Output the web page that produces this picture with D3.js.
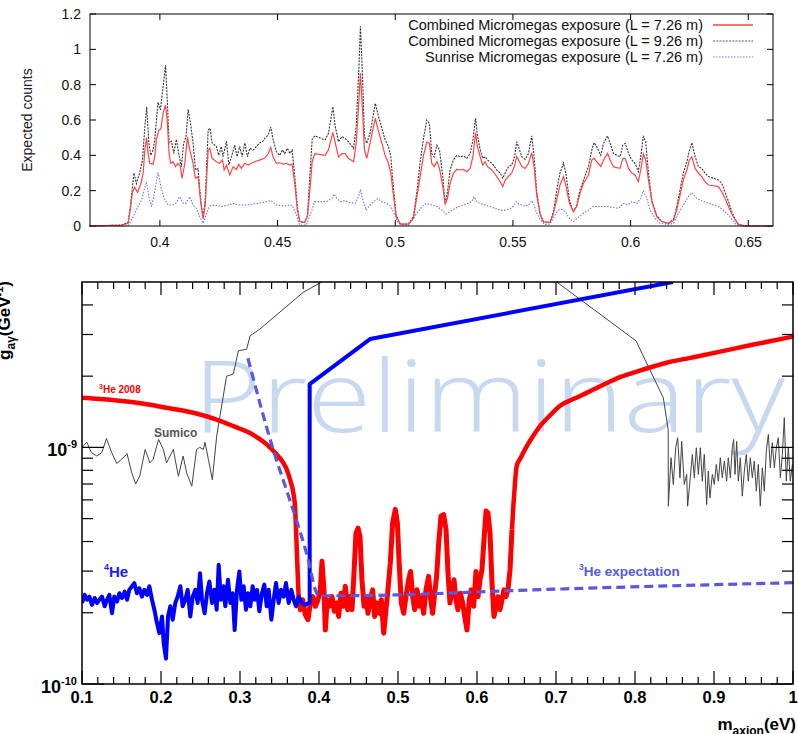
<!DOCTYPE html>
<html>
<head>
<meta charset="utf-8">
<script src="https://cdn.jsdelivr.net/npm/d3@7"></script>
<style>
  body { margin: 0; background: #fff; }
  svg { display: block; }
</style>
</head>
<body>
<script>
// ---- top panel: expected counts vs axion mass (eV) ----
var topXTicks = [0.4, 0.45, 0.5, 0.55, 0.6, 0.65];
var topYTicks = [0, 0.2, 0.4, 0.6, 0.8, 1, 1.2];

var legendLabels = [
  'Combined Micromegas exposure (L = 7.26 m)',
  'Combined Micromegas exposure (L = 9.26 m)',
  'Sunrise Micromegas exposure (L = 7.26 m)'
];

// [mass, counts]
var combined726 = [
  [0.370,0],[0.3837,0.005],[0.3865,0.015],[0.3876,0.11],[0.3883,0.19],[0.3893,0.22],[0.3905,0.19],[0.3919,0.24],[0.3929,0.30],[0.3936,0.43],[0.3943,0.50],[0.3950,0.41],[0.3957,0.355],[0.3971,0.35],[0.3978,0.39],[0.3985,0.49],[0.3995,0.54],[0.4004,0.55],[0.4014,0.64],[0.4024,0.685],[0.4031,0.60],[0.4039,0.41],[0.4046,0.355],[0.4056,0.364],[0.4066,0.336],[0.4077,0.355],[0.4087,0.336],[0.4094,0.27],[0.4106,0.355],[0.4117,0.505],[0.4127,0.43],[0.4141,0.355],[0.4151,0.27],[0.4162,0.28],[0.4174,0.128],[0.4184,0.043],[0.4193,0.128],[0.4205,0.43],[0.4212,0.44],[0.4222,0.383],[0.4240,0.364],[0.4254,0.355],[0.4266,0.374],[0.4273,0.317],[0.4283,0.345],[0.4297,0.289],[0.4311,0.336],[0.4325,0.32],[0.4335,0.35],[0.4346,0.326],[0.4361,0.355],[0.4375,0.345],[0.4389,0.355],[0.4403,0.364],[0.4417,0.37],[0.4431,0.377],[0.4445,0.383],[0.4460,0.41],[0.4471,0.445],[0.4481,0.39],[0.4495,0.355],[0.4509,0.358],[0.4523,0.35],[0.4537,0.355],[0.4552,0.345],[0.4562,0.35],[0.4573,0.24],[0.4584,0.09],[0.4594,0.025],[0.4615,0.02],[0.4627,0.053],[0.4637,0.2],[0.4647,0.364],[0.4658,0.41],
  [0.4702,0.40],[0.4716,0.43],[0.4735,0.53],[0.4745,0.47],[0.4759,0.39],[0.4773,0.41],[0.4787,0.41],[0.4801,0.383],[0.4823,0.364],[0.4834,0.47],[0.4844,0.675],[0.4852,0.864],[0.4861,0.657],[0.4869,0.43],[0.4879,0.383],[0.4893,0.47],[0.4915,0.61],[0.4929,0.534],[0.4943,0.47],[0.4957,0.40],[0.4971,0.355],[0.4981,0.30],[0.4993,0.166],[0.5004,0.053],[0.5021,0.011],[0.5056,0.011],[0.5077,0.043],[0.5092,0.166],[0.5106,0.28],[0.5120,0.40],[0.5134,0.474],[0.5145,0.47],[0.5155,0.355],[0.5165,0.336],[0.5177,0.364],[0.5188,0.326],[0.5202,0.223],[0.5212,0.125],[0.5222,0.157],[0.5233,0.24],[0.5247,0.30],[0.5262,0.32],[0.5276,0.317],[0.5290,0.32],[0.5304,0.307],[0.5318,0.326],[0.5330,0.392],[0.5341,0.528],[0.5349,0.449],[0.5361,0.392],[0.5372,0.345],[0.5382,0.364],[0.5392,0.336],[0.5403,0.326],[0.5417,0.307],[0.5431,0.28],[0.5446,0.25],[0.5457,0.223],[0.5467,0.26],[0.5481,0.28],[0.5495,0.30],[0.5507,0.34],[0.5516,0.392],[0.5528,0.364],[0.5538,0.336],[0.5552,0.326],[0.5566,0.355],[0.5580,0.415],[0.5590,0.336],[0.5601,0.175],[0.5616,0.062],[0.5630,0.023],[0.5658,0.02],
  [0.5672,0.07],[0.5689,0.166],[0.5700,0.232],[0.5715,0.28],[0.5726,0.223],[0.5740,0.128],[0.5757,0.081],[0.5771,0.11],[0.5785,0.185],[0.5800,0.242],[0.5821,0.289],[0.5835,0.374],[0.5845,0.383],[0.5856,0.364],[0.5873,0.336],[0.5885,0.374],[0.5902,0.411],[0.5913,0.374],[0.5927,0.336],[0.5941,0.33],[0.5955,0.326],[0.5967,0.383],[0.5977,0.383],[0.5991,0.326],[0.6005,0.30],[0.6019,0.289],[0.6033,0.251],[0.6043,0.317],[0.6054,0.408],[0.6064,0.374],[0.6076,0.26],[0.6090,0.138],[0.6111,0.053],[0.6132,0.025],[0.6161,0.015],[0.6182,0.03],[0.6196,0.09],[0.6210,0.175],[0.6224,0.26],[0.6239,0.317],[0.6250,0.374],[0.6260,0.392],[0.6274,0.326],[0.6288,0.30],[0.6302,0.28],[0.6316,0.251],[0.6331,0.232],[0.6352,0.228],[0.6373,0.223],[0.6387,0.194],[0.6401,0.157],[0.6416,0.11],[0.6430,0.068],[0.6444,0.034],[0.6458,0.009],[0.6479,0.002],[0.6508,0],[0.660,0]
];

var combined926 = [
  [0.370,0],[0.3837,0.005],[0.3865,0.02],[0.3876,0.13],[0.3890,0.30],[0.3900,0.24],[0.3914,0.30],[0.3926,0.374],[0.3936,0.56],[0.3944,0.675],[0.3953,0.47],[0.3961,0.40],[0.3971,0.43],[0.3978,0.49],[0.3992,0.70],[0.4002,0.657],[0.4012,0.77],[0.4024,0.91],[0.4032,0.695],[0.4039,0.47],[0.4049,0.48],[0.4059,0.41],[0.4070,0.49],[0.4080,0.41],[0.4091,0.336],[0.4101,0.47],[0.4111,0.505],[0.4120,0.66],[0.4130,0.58],[0.4141,0.47],[0.4151,0.317],[0.4162,0.326],[0.4174,0.138],[0.4184,0.043],[0.4193,0.157],[0.4205,0.543],[0.4213,0.553],[0.4222,0.47],[0.4240,0.45],[0.4250,0.40],[0.4261,0.45],[0.4268,0.392],[0.4283,0.48],[0.4293,0.345],[0.4304,0.392],[0.4318,0.458],[0.4328,0.392],[0.4339,0.45],[0.4349,0.392],[0.4361,0.47],[0.4372,0.392],[0.4382,0.44],[0.4396,0.43],[0.4410,0.45],[0.4424,0.47],[0.4438,0.48],[0.4448,0.50],[0.4460,0.515],[0.4471,0.56],[0.4481,0.49],[0.4495,0.42],[0.4509,0.40],[0.4521,0.43],[0.4530,0.41],[0.4542,0.44],[0.4552,0.41],[0.4562,0.43],[0.4573,0.28],[0.4584,0.11],[0.4594,0.025],[0.4615,0.02],[0.4627,0.06],[0.4637,0.28],[0.4647,0.49],[0.4658,0.51],
  [0.4702,0.487],[0.4716,0.525],[0.4735,0.675],[0.4745,0.562],[0.4759,0.477],[0.4773,0.506],[0.4787,0.496],[0.4801,0.477],[0.4823,0.44],[0.4834,0.562],[0.4844,0.845],[0.4852,1.13],[0.4861,0.845],[0.4869,0.506],[0.4879,0.468],[0.4893,0.525],[0.4915,0.694],[0.4929,0.619],[0.4943,0.553],[0.4957,0.487],[0.4971,0.449],[0.4981,0.392],[0.4993,0.204],[0.5004,0.062],[0.5021,0.011],[0.5056,0.011],[0.5077,0.053],[0.5092,0.194],[0.5106,0.364],[0.5120,0.496],[0.5134,0.60],[0.5145,0.58],[0.5155,0.41],[0.5165,0.392],[0.5177,0.458],[0.5188,0.43],[0.5202,0.28],[0.5212,0.125],[0.5222,0.194],[0.5233,0.317],[0.5247,0.374],[0.5262,0.40],[0.5276,0.392],[0.5290,0.396],[0.5304,0.383],[0.5318,0.41],[0.5330,0.487],[0.5341,0.61],[0.5349,0.515],[0.5361,0.43],[0.5372,0.383],[0.5382,0.392],[0.5392,0.374],[0.5403,0.364],[0.5417,0.345],[0.5431,0.317],[0.5446,0.30],[0.5457,0.27],[0.5467,0.30],[0.5481,0.336],[0.5495,0.345],[0.5507,0.392],[0.5516,0.477],[0.5528,0.43],[0.5538,0.392],[0.5552,0.377],[0.5566,0.41],[0.5580,0.51],[0.5590,0.392],[0.5601,0.194],[0.5616,0.068],[0.5630,0.023],[0.5658,0.02],
  [0.5672,0.08],[0.5689,0.223],[0.5700,0.30],[0.5715,0.355],[0.5726,0.289],[0.5740,0.147],[0.5757,0.081],[0.5771,0.119],[0.5785,0.204],[0.5800,0.26],[0.5821,0.336],[0.5835,0.43],[0.5845,0.472],[0.5856,0.449],[0.5873,0.40],[0.5885,0.468],[0.5902,0.51],[0.5913,0.468],[0.5927,0.411],[0.5941,0.40],[0.5955,0.392],[0.5967,0.458],[0.5977,0.468],[0.5991,0.411],[0.6005,0.374],[0.6019,0.355],[0.6033,0.307],[0.6043,0.392],[0.6054,0.506],[0.6064,0.477],[0.6076,0.30],[0.6090,0.147],[0.6111,0.062],[0.6132,0.025],[0.6161,0.015],[0.6182,0.038],[0.6196,0.11],[0.6210,0.204],[0.6224,0.30],[0.6239,0.364],[0.6250,0.43],[0.6260,0.472],[0.6274,0.392],[0.6288,0.336],[0.6302,0.326],[0.6316,0.30],[0.6331,0.28],[0.6352,0.27],[0.6373,0.26],[0.6387,0.242],[0.6401,0.194],[0.6416,0.138],[0.6430,0.081],[0.6444,0.038],[0.6458,0.011],[0.6479,0.002],[0.6508,0],[0.660,0]
];

var sunrise726 = [
  [0.370,0],[0.3865,0],[0.3886,0.053],[0.3907,0.11],[0.3922,0.147],[0.3933,0.204],[0.3943,0.25],[0.3953,0.166],[0.3964,0.11],[0.3978,0.194],[0.3992,0.304],[0.4004,0.223],[0.4018,0.157],[0.4035,0.119],[0.4056,0.119],[0.4070,0.132],[0.4084,0.166],[0.4099,0.128],[0.4110,0.128],[0.4127,0.166],[0.4141,0.119],[0.4155,0.10],[0.4169,0.053],[0.4184,0.015],[0.4198,0.072],[0.4212,0.113],[0.4233,0.119],[0.4261,0.11],[0.4290,0.119],[0.4311,0.128],[0.4332,0.119],[0.4361,0.119],[0.4389,0.123],[0.4417,0.128],[0.4445,0.136],[0.4474,0.143],[0.4495,0.119],[0.4530,0.113],[0.4562,0.119],[0.4580,0.062],[0.4594,0.006],[0.4622,0.006],[0.4641,0.072],[0.4658,0.138],
  [0.4709,0.138],[0.4731,0.157],[0.4740,0.181],[0.4752,0.157],[0.4766,0.138],[0.4787,0.143],[0.4808,0.132],[0.4830,0.128],[0.4844,0.166],[0.4852,0.204],[0.4862,0.147],[0.4876,0.09],[0.4893,0.119],[0.4908,0.138],[0.4925,0.155],[0.4943,0.138],[0.4964,0.128],[0.4981,0.11],[0.4995,0.072],[0.5009,0.025],[0.5028,0.006],[0.5056,0.006],[0.5077,0.043],[0.5092,0.072],[0.5113,0.11],[0.5134,0.128],[0.5155,0.119],[0.5177,0.11],[0.5198,0.09],[0.5216,0.068],[0.5233,0.081],[0.5254,0.10],[0.5276,0.113],[0.5304,0.125],[0.5325,0.138],[0.5335,0.166],[0.5347,0.138],[0.5361,0.128],[0.5382,0.119],[0.5403,0.11],[0.5424,0.10],[0.5446,0.09],[0.5467,0.09],[0.5488,0.098],[0.5502,0.113],[0.5514,0.138],[0.5524,0.125],[0.5538,0.119],[0.5552,0.11],[0.5570,0.125],[0.5580,0.143],[0.5590,0.119],[0.5601,0.072],[0.5618,0.034],[0.5633,0.009],[0.5658,0.01],
  [0.5679,0.062],[0.5693,0.09],[0.5708,0.094],[0.5722,0.081],[0.5740,0.043],[0.5757,0.025],[0.5778,0.049],[0.5800,0.072],[0.5821,0.09],[0.5839,0.11],[0.5863,0.11],[0.5892,0.11],[0.5920,0.106],[0.5948,0.10],[0.5970,0.128],[0.5987,0.119],[0.6005,0.138],[0.6026,0.128],[0.6043,0.157],[0.6054,0.20],[0.6069,0.157],[0.6083,0.09],[0.6104,0.043],[0.6125,0.015],[0.6161,0.009],[0.6182,0.015],[0.6203,0.072],[0.6224,0.119],[0.6241,0.157],[0.6260,0.189],[0.6281,0.157],[0.6302,0.143],[0.6324,0.132],[0.6352,0.119],[0.6373,0.11],[0.6394,0.09],[0.6416,0.062],[0.6434,0.03],[0.6451,0.005],[0.6479,0],[0.660,0]
];

// ---- bottom panel: g_agamma (units of 1e-10 GeV^-1) vs m_axion (eV) ----
var bottomXTicks = [0.1, 0.2, 0.3, 0.4, 0.5, 0.6, 0.7, 0.8, 0.9, 1];
var bottomXLabels = ['0.1', '0.2', '0.3', '0.4', '0.5', '0.6', '0.7', '0.8', '0.9', '1'];
var bottomYMajor = [1, 10];
var bottomYLabels = ['-10', '-9'];
var bottomYMinor = [2, 3, 4, 5, 6, 7, 8, 9, 20, 30, 40];

var he4Noise = [
  [0.1000,2.20],[0.1034,2.38],[0.1063,2.27],[0.1093,2.34],[0.1127,2.16],[0.1160,2.31],[0.1190,2.20],[0.1219,2.27],[0.1253,2.34],[0.1287,2.13],[0.1316,2.27],[0.1346,2.38],[0.1380,1.99],[0.1409,2.34],[0.1443,2.23],[0.1473,2.42],[0.1506,2.31],[0.1540,2.46],[0.1570,2.27],[0.1599,2.50],[0.1633,2.59],[0.1662,2.67],[0.1696,2.42],[0.1726,2.54],[0.1759,2.34],[0.1789,2.50],[0.1823,2.38],[0.1852,2.59],[0.1886,2.27],[0.1916,2.06],[0.1949,1.81],[0.1979,1.64],[0.2013,1.93],[0.2034,1.49],[0.2063,1.28],[0.2089,1.93],[0.2118,2.13],[0.2148,1.87],[0.2181,2.20],[0.2211,2.34],[0.2245,2.59],[0.2274,2.13],[0.2308,2.27],[0.2338,2.50],[0.2371,1.93],[0.2401,2.34],[0.2435,2.50],[0.2464,2.20],[0.2494,2.94],[0.2519,2.27],[0.2553,1.99],[0.2582,2.42],[0.2612,2.71],[0.2646,2.20],[0.2675,2.50],[0.2705,2.06],[0.2730,3.19],[0.2759,2.27],[0.2789,2.59],[0.2814,2.13],[0.2848,2.76],[0.2878,2.20],[0.2907,2.42],[0.2932,1.69],[0.2962,2.50],[0.2992,2.99],[0.3017,2.27],[0.3046,2.59],[0.3076,2.06],[0.3101,2.42],[0.3131,2.13],[0.3160,2.59],[0.3186,2.27],[0.3215,2.50],[0.3245,2.03],[0.3278,2.42],[0.3308,2.63],[0.3338,2.13],[0.3363,2.50],[0.3397,1.87],[0.3426,2.27],[0.3456,2.67],[0.3489,2.20],[0.3519,2.50],[0.3553,2.34],[0.3582,2.67],[0.3616,2.20],[0.3650,2.50],[0.3679,2.27],[0.3709,2.13],[0.3743,2.34],[0.3785,2.20],[0.3827,2.16],[0.3869,2.20],[0.3882,2.20]
];
var he4Edge = [[0.3882,2.20],[0.3882,18.5],[0.4646,28.7],[0.848,50]];

var he3Smooth = [
  [0.100,16.2],[0.123,16.0],[0.165,15.5],[0.207,14.7],[0.241,14.0],[0.2705,13.1],[0.2915,12.3],[0.3127,11.5],[0.3338,10.3],[0.3464,9.33],[0.3548,8.61],[0.3591,8.07],[0.3633,7.32],[0.3675,6.43],[0.3696,5.64],[0.3722,3.46],[0.3743,2.27]
];
var he3Noise = [
  [0.3743,2.27],[0.3764,2.06],[0.3793,2.27],[0.3827,1.96],[0.3861,1.87],[0.3890,2.20],[0.3920,2.34],[0.3954,2.13],[0.3987,2.27],[0.4017,2.50],[0.4038,3.30],[0.4063,2.50],[0.4080,1.69],[0.4105,2.27],[0.4131,2.13],[0.4165,2.34],[0.4194,2.03],[0.4224,2.20],[0.4249,1.93],[0.4278,2.42],[0.4308,2.13],[0.4333,2.59],[0.4363,2.06],[0.4392,2.34],[0.4418,2.06],[0.4443,2.94],[0.4468,4.34],[0.4494,4.56],[0.4519,4.2],[0.4544,2.76],[0.4570,2.13],[0.4595,2.34],[0.4620,1.99],[0.4650,2.27],[0.4679,2.50],[0.4705,1.93],[0.4734,2.20],[0.4764,1.99],[0.4789,2.27],[0.4819,1.64],[0.4848,2.06],[0.4873,2.50],[0.4903,3.25],[0.4932,4.80],[0.4966,5.47],[0.4992,4.80],[0.5017,3.14],[0.5042,2.20],[0.5072,1.99],[0.5101,2.34],[0.5135,2.76],[0.5160,2.99],[0.5186,2.34],[0.5211,2.06],[0.5241,2.50],[0.5270,2.13],[0.5295,2.34],[0.5325,1.99],[0.5354,2.50],[0.5388,2.85],[0.5414,2.27],[0.5439,1.99],[0.5464,2.42],[0.5489,2.85],[0.5515,3.94],[0.5544,5.12],[0.5578,5.2],[0.5608,4.49],[0.5633,2.94],[0.5658,2.20],[0.5684,2.50],[0.5709,2.76],[0.5734,2.27],[0.5759,2.06],[0.5789,2.42],[0.5819,2.20],[0.5844,1.93],[0.5873,1.69],[0.5903,2.27],[0.5928,2.50],[0.5958,2.13],[0.5987,2.99],[0.6013,2.34],[0.6038,2.76],[0.6063,3.04],[0.6089,4.08],[0.6114,5.38],[0.6139,5.30],[0.6165,4.34],[0.6190,2.67],[0.6215,1.93],[0.6241,2.13],[0.6266,2.34],[0.6291,2.06],[0.6316,2.27],[0.6342,2.50],[0.6367,2.34],[0.6392,2.50],[0.6418,3.04],[0.6443,4.49]
];
var he3Rise = [
  [0.6443,4.49],[0.6460,5.64],[0.6480,7.0],[0.6502,8.33],[0.6550,9.0],[0.6629,10.1],[0.6720,11.3],[0.6797,12.3],[0.6920,13.6],[0.7051,15.0],[0.7220,16.0],[0.7389,17.0],[0.7600,18.4],[0.7810,19.8],[0.8100,21.3],[0.8401,22.8],[0.8700,23.9],[0.9034,25.2],[0.9500,27.2],[1.0,29.4]
];

var he3Expectation = [
  [0.310,23.8],[0.342,9.8],[0.3616,6.2],[0.3743,4.6],[0.3869,3.3],[0.3954,2.5],[0.3996,2.36],[0.425,2.36],[0.5,2.38],[0.642,2.48],[1.0,2.68]
];

var sumicoLow = [
  [0.100,1.0],[0.106,1.053],[0.112,0.95],[0.1186,0.92],[0.125,0.95],[0.131,1.09],[0.1376,0.95],[0.144,0.855],[0.150,0.89],[0.157,0.94],[0.163,0.78],[0.168,0.70],[0.173,0.755],[0.180,0.98],[0.186,0.86],[0.190,0.89],[0.197,1.08],[0.203,0.98],[0.207,0.86],[0.2156,0.98],[0.222,0.755],[0.228,0.92],[0.2325,0.78],[0.239,0.686],[0.245,0.98],[0.249,1.0],[0.2536,0.98],[0.2557,1.05],[0.260,0.89],[0.265,0.73],[0.2705,1.117],[0.2747,1.36],[0.283,2.0],[0.2915,2.04],[0.298,2.56],[0.3085,2.6],[0.3127,2.96],[0.325,3.16],[0.380,4.52],[0.4034,5.0]
].map(function(d) { return [d[0], d[1] * 10]; });

var sumicoHigh = [
  [0.7009,50],[0.8013,28.2],[0.8358,16.2],[0.8420,11.9],[0.8422,5.64],[0.8456,9.04],[0.8485,6.97],[0.8515,9.97],[0.8540,10.99],[0.8569,7.44],[0.8591,10.6],[0.8624,6.97],[0.8654,7.69],[0.8666,5.64],[0.8696,7.20],[0.8726,9.34],[0.8751,7.44],[0.8776,9.97],[0.8802,7.69],[0.8827,9.97],[0.8852,7.20],[0.8877,9.34],[0.8907,5.73],[0.8928,7.94],[0.8949,6.12],[0.8979,7.69],[0.9004,6.97],[0.9029,8.47],[0.9055,7.20],[0.9080,9.04],[0.9105,7.44],[0.9131,8.75],[0.9160,7.20],[0.9181,9.04],[0.9207,7.44],[0.9232,9.97],[0.9249,10.8],[0.9266,7.69],[0.9287,10.6],[0.9308,7.20],[0.9333,9.04],[0.9358,6.22],[0.9384,7.94],[0.9409,9.34],[0.9434,7.20],[0.9460,9.04],[0.9485,7.44],[0.9510,8.75],[0.9536,6.53],[0.9561,8.47],[0.9586,5.64],[0.9612,8.20],[0.9637,6.53],[0.9662,9.65],[0.9688,11.35],[0.9713,8.20],[0.9738,10.46],[0.9764,8.20],[0.9789,9.97],[0.9814,10.99],[0.9840,7.44],[0.9865,9.34],[0.9890,13.36],[0.9915,7.20],[0.9941,9.97],[0.9966,7.20],[0.9992,8.47]
];

var W = 798, H = 734;
var svg = d3.select('body').append('svg')
  .attr('width', W)
  .attr('height', H);

// ================= top panel =================
var tx = d3.scaleLinear().domain([0.3703, 0.6605]).range([90, 773]);
var ty = d3.scaleLinear().domain([0, 1.2]).range([226, 14]);
var topFont = '"Liberation Sans", Arial, sans-serif';
var topLine = d3.line()
  .x(function(d) { return tx(d[0]); })
  .y(function(d) { return ty(d[1]); });

var gTop = svg.append('g');
var tickLen = 6;

topXTicks.forEach(function(v) {
  var x = tx(v);
  gTop.append('line').attr('x1', x).attr('x2', x).attr('y1', 226).attr('y2', 226 - tickLen).attr('stroke', '#000');
  gTop.append('line').attr('x1', x).attr('x2', x).attr('y1', 14).attr('y2', 14 + tickLen).attr('stroke', '#000');
  gTop.append('text').attr('x', x).attr('y', 247).attr('text-anchor', 'middle')
    .attr('font-family', topFont).attr('font-size', 14).attr('fill', '#111').text(String(v));
});
topYTicks.forEach(function(v) {
  var y = ty(v);
  gTop.append('line').attr('x1', 90).attr('x2', 90 + tickLen).attr('y1', y).attr('y2', y).attr('stroke', '#000');
  gTop.append('line').attr('x1', 773).attr('x2', 773 - tickLen).attr('y1', y).attr('y2', y).attr('stroke', '#000');
  gTop.append('text').attr('x', 81).attr('y', y + 5).attr('text-anchor', 'end')
    .attr('font-family', topFont).attr('font-size', 14).attr('fill', '#111').text(String(v));
});

gTop.append('text')
  .attr('transform', 'translate(32,120) rotate(-90)')
  .attr('text-anchor', 'middle')
  .attr('font-family', topFont).attr('font-size', 14).attr('fill', '#222')
  .text('Expected counts');

gTop.append('path').datum(sunrise726).attr('d', topLine)
  .attr('fill', 'none').attr('stroke', '#6f6fff').attr('stroke-width', 1.1).attr('stroke-dasharray', '1.5,1.5');
gTop.append('path').datum(combined926).attr('d', topLine)
  .attr('fill', 'none').attr('stroke', '#333').attr('stroke-width', 1.1).attr('stroke-dasharray', '2,1.2');
gTop.append('path').datum(combined726).attr('d', topLine)
  .attr('fill', 'none').attr('stroke', '#ff4545').attr('stroke-width', 1.2);

// legend
var legendStyles = [
  { stroke: '#ff4545', dash: null },
  { stroke: '#555', dash: '2,1.2' },
  { stroke: '#6f6fff', dash: '1.5,1.5' }
];
legendLabels.forEach(function(label, i) {
  var y = 30 + i * 16;
  gTop.append('text').attr('x', 703).attr('y', y).attr('text-anchor', 'end')
    .attr('font-family', topFont).attr('font-size', 14.5).attr('fill', '#111').text(label);
  gTop.append('line').attr('x1', 713).attr('x2', 753).attr('y1', y - 5).attr('y2', y - 5)
    .attr('stroke', legendStyles[i].stroke).attr('stroke-width', i === 0 ? 1.6 : 1.1)
    .attr('stroke-dasharray', legendStyles[i].dash);
});

gTop.append('rect').attr('x', 90).attr('y', 14).attr('width', 683).attr('height', 212)
  .attr('fill', 'none').attr('stroke', '#000').attr('stroke-width', 1);

// ================= bottom panel =================
var bx = d3.scaleLinear().domain([0.1, 1]).range([82, 793]);
var by = d3.scaleLog().domain([1, 50]).range([684, 282]);
var boldFont = '"Liberation Sans", Arial, Helvetica, sans-serif';
var bLine = d3.line()
  .x(function(d) { return bx(d[0]); })
  .y(function(d) { return by(d[1]); });
var bCurve = d3.line()
  .curve(d3.curveMonotoneX)
  .x(function(d) { return bx(d[0]); })
  .y(function(d) { return by(d[1]); });

var gB = svg.append('g');

svg.append('defs').append('clipPath').attr('id', 'plotClip')
  .append('rect').attr('x', 82).attr('y', 282).attr('width', 711).attr('height', 402);

// watermark under the curves
gB.append('text')
  .attr('x', 193).attr('y', 432)
  .attr('font-family', '"Open Sans", "DejaVu Sans", sans-serif')
  .attr('font-weight', 300)
  .attr('font-size', 99)
  .attr('textLength', 592)
  .attr('lengthAdjust', 'spacingAndGlyphs')
  .attr('fill', '#c6d9f0')
  .text('Preliminary');

var plot = gB.append('g').attr('clip-path', 'url(#plotClip)');

plot.append('path').datum(sumicoLow).attr('d', bLine)
  .attr('fill', 'none').attr('stroke', '#444').attr('stroke-width', 1);
plot.append('path').datum(sumicoHigh).attr('d', bLine)
  .attr('fill', 'none').attr('stroke', '#444').attr('stroke-width', 1);

// 3He 2008 exclusion: smooth flanks, noisy floor
var red = '#ff0000';
plot.append('path').datum(he3Smooth).attr('d', bCurve)
  .attr('fill', 'none').attr('stroke', red).attr('stroke-width', 4.5);
plot.append('path').datum(he3Noise).attr('d', bLine)
  .attr('fill', 'none').attr('stroke', red).attr('stroke-width', 5)
  .attr('stroke-linejoin', 'round');
plot.append('path').datum(he3Rise).attr('d', bCurve)
  .attr('fill', 'none').attr('stroke', red).attr('stroke-width', 4.5);

plot.append('path').datum(he4Noise.concat(he4Edge)).attr('d', bLine)
  .attr('fill', 'none').attr('stroke', '#0000ff').attr('stroke-width', 4)
  .attr('stroke-linejoin', 'round');

plot.append('path').datum(he3Expectation).attr('d', bCurve)
  .attr('fill', 'none').attr('stroke', '#5858e0').attr('stroke-width', 3.2)
  .attr('stroke-dasharray', '9,5');

// frame and ticks (ROOT style, all four sides)
gB.append('rect').attr('x', 82).attr('y', 282).attr('width', 711).attr('height', 402)
  .attr('fill', 'none').attr('stroke', '#000').attr('stroke-width', 1.5);

var xMinor = d3.range(10, 101, 2).map(function(i) { return i / 100; });
xMinor.forEach(function(v) {
  var x = bx(v);
  var isMajor = bottomXTicks.some(function(m) { return Math.abs(m - v) < 1e-9; });
  var len = isMajor ? 13 : 7;
  gB.append('line').attr('x1', x).attr('x2', x).attr('y1', 684).attr('y2', 684 - len).attr('stroke', '#000').attr('stroke-width', 1.2);
  gB.append('line').attr('x1', x).attr('x2', x).attr('y1', 282).attr('y2', 282 + len).attr('stroke', '#000').attr('stroke-width', 1.2);
});
bottomXTicks.forEach(function(v, i) {
  gB.append('text').attr('x', bx(v)).attr('y', 703).attr('text-anchor', 'middle')
    .attr('font-family', boldFont).attr('font-weight', 'bold').attr('font-size', 16.5)
    .text(bottomXLabels[i]);
});

bottomYMinor.forEach(function(v) {
  var y = by(v);
  gB.append('line').attr('x1', 82).attr('x2', 93).attr('y1', y).attr('y2', y).attr('stroke', '#000').attr('stroke-width', 1.2);
  gB.append('line').attr('x1', 793).attr('x2', 782).attr('y1', y).attr('y2', y).attr('stroke', '#000').attr('stroke-width', 1.2);
});
bottomYMajor.forEach(function(v, i) {
  var y = by(v);
  gB.append('line').attr('x1', 82).attr('x2', 104).attr('y1', y).attr('y2', y).attr('stroke', '#000').attr('stroke-width', 1.2);
  gB.append('line').attr('x1', 793).attr('x2', 771).attr('y1', y).attr('y2', y).attr('stroke', '#000').attr('stroke-width', 1.2);
  var t = gB.append('text').attr('x', 77).attr('y', y + 9).attr('text-anchor', 'end')
    .attr('font-family', boldFont).attr('font-weight', 'bold').attr('font-size', 18);
  t.append('tspan').text('10');
  t.append('tspan').attr('dy', -8).attr('font-size', 11).text(bottomYLabels[i]);
});

// axis titles
var xt = gB.append('text').attr('x', 796).attr('y', 730).attr('text-anchor', 'end')
  .attr('font-family', boldFont).attr('font-weight', 'bold').attr('font-size', 17);
xt.append('tspan').text('m');
xt.append('tspan').attr('dy', 5).attr('font-size', 12).text('axion');
xt.append('tspan').attr('dy', -5).text('(eV)');

var yt = gB.append('text').attr('transform', 'translate(10,281) rotate(-90)').attr('text-anchor', 'end')
  .attr('font-family', boldFont).attr('font-weight', 'bold').attr('font-size', 17);
yt.append('tspan').text('g');
yt.append('tspan').attr('dy', 5).attr('font-size', 12).text('a\u03b3');
yt.append('tspan').attr('dy', -5).text('(GeV');
yt.append('tspan').attr('dy', -7).attr('font-size', 11).text('-1');
yt.append('tspan').attr('dy', 7).text(')');

// curve labels
var l1 = gB.append('text').attr('x', 99).attr('y', 393)
  .attr('font-family', boldFont).attr('font-weight', 'bold').attr('font-size', 10).attr('fill', red);
l1.append('tspan').attr('font-size', 7).attr('dy', -4).text('3');
l1.append('tspan').attr('dy', 4).text('He 2008');

gB.append('text').attr('x', 154).attr('y', 437)
  .attr('font-family', boldFont).attr('font-weight', 'bold').attr('font-size', 12).attr('fill', '#555')
  .text('Sumico');

var l3 = gB.append('text').attr('x', 104).attr('y', 577)
  .attr('font-family', boldFont).attr('font-weight', 'bold').attr('font-size', 15).attr('fill', '#1a1aff');
l3.append('tspan').attr('font-size', 9).attr('dy', -7).text('4');
l3.append('tspan').attr('dy', 7).text('He');

var l4 = gB.append('text').attr('x', 579).attr('y', 576)
  .attr('font-family', boldFont).attr('font-weight', 'bold').attr('font-size', 13.5).attr('fill', '#5858e0');
l4.append('tspan').attr('font-size', 8.5).attr('dy', -6).text('3');
l4.append('tspan').attr('dy', 6).text('He expectation');
</script>
</body>
</html>
